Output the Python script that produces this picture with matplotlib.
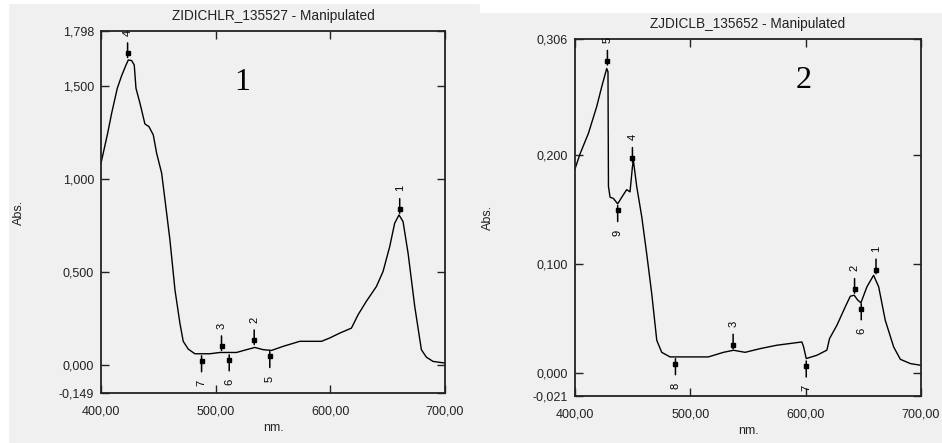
import matplotlib
matplotlib.use("Agg")
import matplotlib.pyplot as plt
from matplotlib.patches import Rectangle

# ---------------- data ----------------
wl1 = [400, 405.8, 409.3, 414.2, 417.9, 421.8, 423.8, 426.7, 429.0, 430.5, 434.0, 438.3, 441.8,
       445.6, 448.5, 452.9, 455.8, 460.1, 464.5, 468.8, 471.7, 476.1, 481.9, 494.9, 503.7, 518.2,
       526.9, 534.2, 541.4, 548.7, 558.9, 573.4, 592.3, 599.5, 608.2, 618.4, 624.2, 631.4, 640.2,
       646.0, 651.8, 656.1, 659.9, 663.4, 667.8, 673.6, 679.4, 683.7, 689.5, 700]
abs1 = [1.087, 1.248, 1.356, 1.490, 1.556, 1.615, 1.642, 1.639, 1.615, 1.490, 1.409, 1.298, 1.284,
        1.239, 1.141, 1.033, 0.890, 0.675, 0.406, 0.227, 0.129, 0.087, 0.062, 0.062, 0.069, 0.069,
        0.084, 0.096, 0.084, 0.080, 0.102, 0.129, 0.129, 0.147, 0.173, 0.200, 0.272, 0.344, 0.424,
        0.505, 0.639, 0.764, 0.809, 0.773, 0.603, 0.317, 0.084, 0.044, 0.021, 0.012]

wl2 = [400, 404.3, 411.6, 418.8, 423.1, 427.5, 428.6, 429.0, 430.4, 433.3, 437.0, 440.5, 444.8,
       447.7, 449.8, 450.6, 453.5, 457.9, 462.2, 466.5, 470.9, 475.2, 482.4, 494.0, 515.7, 528.7,
       537.4, 547.5, 560.6, 575.0, 596.7, 598.2, 600.5, 609.7, 618.4, 620.7, 627.1, 634.3, 638.7,
       642.1, 645.0, 647.9, 653.1, 658.9, 663.3, 669.0, 676.3, 682.1, 690.8, 700]
abs2 = [0.187, 0.2006, 0.2195, 0.244, 0.262, 0.279, 0.276, 0.171, 0.161, 0.160, 0.155, 0.161, 0.168,
        0.166, 0.189, 0.195, 0.171, 0.143, 0.109, 0.073, 0.030, 0.019, 0.0148, 0.0148, 0.0148, 0.019,
        0.0209, 0.019, 0.0224, 0.0255, 0.0285, 0.024, 0.0133, 0.0163, 0.021, 0.0316, 0.0438, 0.0606, 0.0704,
        0.0713, 0.067, 0.0643, 0.079, 0.0896, 0.079, 0.0484, 0.0239, 0.0126, 0.0087, 0.0071]

peak1_x = [660.5, 533.6, 505.1, 423.2]
peak1_y = [0.84, 0.134, 0.102, 1.678]
peak1_lab = ["1", "2", "3", "4"]
valley1_x = [547.2, 511.8, 487.7]
valley1_y = [0.048, 0.030, 0.025]
valley1_lab = ["5", "6", "7"]

peak2_x = [661.0, 642.4, 537.1, 449.8, 428.1]
peak2_y = [0.0948, 0.077, 0.026, 0.197, 0.286]
peak2_lab = ["1", "2", "3", "4", "5"]
valley2_x = [648.2, 600.5, 487.1, 437.0]
valley2_y = [0.059, 0.0066, 0.0087, 0.149]
valley2_lab = ["6", "7", "8", "9"]

xticks = [400, 500, 600, 700]
xtick_labels = ["400,00", "500,00", "600,00", "700,00"]
yticks1 = [-0.149, 0.0, 0.5, 1.0, 1.5, 1.798]
ytick_labels1 = ["-0,149", "0,000", "0,500", "1,000", "1,500", "1,798"]
yticks2 = [-0.021, 0.0, 0.1, 0.2, 0.306]
ytick_labels2 = ["-0,021", "0,000", "0,100", "0,200", "0,306"]

titles = ["ZIDICHLR_135527 - Manipulated", "ZJDICLB_135652 - Manipulated"]
panel_nums = ["1", "2"]

# ---------------- figure ----------------
BG = "#f0f0f0"
INK = "#222222"
fig = plt.figure(figsize=(9.42, 4.43), dpi=100)
fig.patch.set_facecolor(BG)
# white margins of the original screenshot
fig.add_artist(Rectangle((0, 0), 8 / 942, 1, transform=fig.transFigure, color="white", zorder=-1))
fig.add_artist(Rectangle((0, 1 - 3 / 443), 1, 3 / 443, transform=fig.transFigure, color="white", zorder=-1))
fig.add_artist(Rectangle((480 / 942, 1 - 12 / 443), 1, 12 / 443, transform=fig.transFigure, color="white", zorder=-1))

FONT = "Liberation Sans"
ax1 = fig.add_axes([101 / 942, 1 - 393 / 443, 344 / 942, 362 / 443])
ax2 = fig.add_axes([575 / 942, 1 - 396 / 443, 346 / 942, 357 / 443])

specs = [
    (ax1, wl1, abs1, peak1_x, peak1_y, peak1_lab, valley1_x, valley1_y, valley1_lab,
     yticks1, ytick_labels1, (523, 1.52)),
    (ax2, wl2, abs2, peak2_x, peak2_y, peak2_lab, valley2_x, valley2_y, valley2_lab,
     yticks2, ytick_labels2, (598, 0.268)),
]

line_kw = dict(arrowstyle="-", lw=1.1, color="black", shrinkA=0, shrinkB=0)

for i, (ax, wl, ab, px, py, pl, vx, vy, vlab, yt, ytl, numpos) in enumerate(specs):
    ax.set_facecolor(BG)
    ax.plot(wl, ab, color="black", lw=1.0)
    ax.set_xlim(400, 700)
    ax.set_ylim(yt[0], yt[-1])
    ax.set_xticks(xticks)
    ax.set_xticklabels(xtick_labels, fontsize=9, family=FONT, color=INK)
    ax.set_yticks(yt)
    ax.set_yticklabels(ytl, fontsize=9, family=FONT, color=INK)
    ax.tick_params(direction="in", length=6, width=1.0, color=INK,
                   top=True, right=True, pad=5)
    ax.tick_params(axis="x", pad=9)
    for s in ax.spines.values():
        s.set_linewidth(1.3)
        s.set_color(INK)
    ax.set_title(titles[i], fontsize=9.8, family=FONT, pad=8, color=INK)
    ax.set_xlabel("nm.", fontsize=9, family=FONT, labelpad=3, color=INK)
    ax.set_ylabel("Abs.", fontsize=9, family=FONT, labelpad=24 if i == 0 else 28, color=INK)
    ax.text(numpos[0], numpos[1], panel_nums[i], fontsize=23, family="Liberation Serif",
            ha="center", va="center")

    # peak markers (line above)
    for x, y, lab in zip(px, py, pl):
        ax.plot([x], [y], marker="s", ms=2.4, color="black", zorder=5)
        ax.annotate("", xy=(x, y), xytext=(0, 7.5), textcoords="offset points", arrowprops=line_kw)
        ax.annotate("", xy=(x, y), xytext=(0, -3), textcoords="offset points", arrowprops=line_kw)
        t = ax.annotate(lab, xy=(x, y), xytext=(0, 15), textcoords="offset points",
                        rotation=90, ha="center", va="center", fontsize=8, family=FONT)
        t.set_clip_on(True)
    # valley markers (line below)
    for x, y, lab in zip(vx, vy, vlab):
        ax.plot([x], [y], marker="s", ms=2.4, color="black", zorder=5)
        ax.annotate("", xy=(x, y), xytext=(0, 3.5), textcoords="offset points", arrowprops=line_kw)
        ax.annotate("", xy=(x, y), xytext=(0, -8), textcoords="offset points", arrowprops=line_kw)
        ax.annotate(lab, xy=(x, y), xytext=(0, -16), textcoords="offset points",
                    rotation=90, ha="center", va="center", fontsize=8, family=FONT)

fig.savefig("out.png", dpi=100, facecolor=fig.get_facecolor())
